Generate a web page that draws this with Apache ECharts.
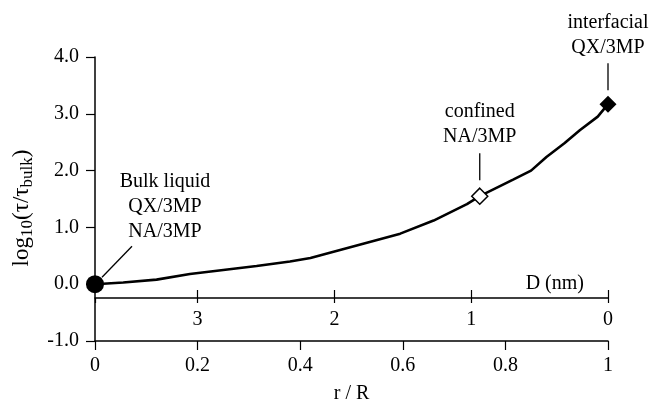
<!DOCTYPE html>
<html><head><meta charset="utf-8">
<script src="https://cdn.jsdelivr.net/npm/echarts@6/dist/echarts.min.js"></script>
<style>html,body{margin:0;padding:0;background:#fff}#c{width:652px;height:403px}</style>
</head><body><div id="c"></div>
<script>
// ---- data ----
const rValues = [0, 0.055, 0.12, 0.185, 0.25, 0.315, 0.38, 0.42, 0.465, 0.53, 0.595, 0.66, 0.725, 0.75, 0.815, 0.85, 0.88, 0.915, 0.945, 0.98, 1.0];
const logTau  = [0, 0.03, 0.08, 0.18, 0.25, 0.32, 0.40, 0.46, 0.57, 0.73, 0.89, 1.12, 1.41, 1.55, 1.84, 2.0, 2.24, 2.48, 2.71, 2.95, 3.17];
const xTicks = [0, 0.2, 0.4, 0.6, 0.8, 1];
const yTicks = [-1, 0, 1, 2, 3, 4];
const dTicks = [0, 1, 2, 3];
const dMax = 3.75;
const bulkPoint = [0, 0];
const confinedPoint = [0.75, 1.55];
const interfacialPoint = [1.0, 3.17];
const bulkLabel = ['Bulk liquid', 'QX/3MP', 'NA/3MP'];
const confinedLabel = ['confined', 'NA/3MP'];
const interfacialLabel = ['interfacial', 'QX/3MP'];
const xName = 'r / R';
const dName = 'D (nm)';

const FONT = '"Liberation Serif", "DejaVu Serif", serif';
const BLACK = '#000';
const txt = {color: BLACK, fontFamily: FONT, fontSize: 20};

const chart = echarts.init(document.getElementById('c'), null, {renderer: 'canvas'});

const dAxisBase = {
  type: 'value', min: 0, max: dMax, interval: 1, inverse: true,
  position: 'bottom', offset: -43, gridIndex: 0,
  splitLine: {show: false}
};

chart.setOption({
  animation: false,
  backgroundColor: '#fff',
  grid: {left: 95, right: 44, top: 57, bottom: 62, containLabel: false, outerBoundsMode: 'none'},
  xAxis: [
    {
      type: 'value', min: xTicks[0], max: xTicks[xTicks.length - 1], interval: 0.2,
      position: 'bottom',
      axisLine: {show: true, onZero: false, lineStyle: {color: BLACK, width: 1.5}},
      axisTick: {show: true, inside: false, length: 9, lineStyle: {color: BLACK, width: 1.2}},
      axisLabel: Object.assign({margin: 15, formatter: v => String(+v.toFixed(1))}, txt),
      splitLine: {show: false},
      name: xName, nameLocation: 'middle', nameGap: 43,
      nameTextStyle: txt
    },
    Object.assign({}, dAxisBase, {
      axisLine: {show: true, onZero: false, lineStyle: {color: BLACK, width: 1.5}},
      axisTick: {show: true, inside: true, length: 8, lineStyle: {color: BLACK, width: 1.2}},
      axisLabel: Object.assign({margin: 12, showMaxLabel: false,
        formatter: v => (dTicks.indexOf(Math.round(v * 100) / 100) >= 0 ? String(v) : '')}, txt)
    }),
    Object.assign({}, dAxisBase, {
      axisLine: {show: false, onZero: false},
      axisTick: {show: true, inside: false, length: 5, lineStyle: {color: BLACK, width: 1.2}},
      axisLabel: {show: false}
    })
  ],
  yAxis: {
    type: 'value', min: yTicks[0], max: yTicks[yTicks.length - 1], interval: 1,
    axisLine: {show: true, onZero: false, lineStyle: {color: BLACK, width: 1.5}},
    axisTick: {show: true, inside: false, length: 9, lineStyle: {color: BLACK, width: 1.2}},
    axisLabel: Object.assign({margin: 16, formatter: v => v.toFixed(1)}, txt),
    splitLine: {show: false},
    name: '{a|log}{s|10}{a|(τ/τ}{s|bulk}{a|)}',
    nameLocation: 'middle', nameGap: 58,
    nameTextStyle: {
      color: BLACK, fontFamily: FONT, fontSize: 23, padding: [0, 18, 0, 0],
      rich: {
        a: {color: BLACK, fontFamily: FONT, fontSize: 23, lineHeight: 28},
        s: {color: BLACK, fontFamily: FONT, fontSize: 17, lineHeight: 14, verticalAlign: 'bottom'}
      }
    }
  },
  series: [
    {
      type: 'line', xAxisIndex: 0, yAxisIndex: 0,
      data: rValues.map((r, i) => [r, logTau[i]]),
      showSymbol: false, symbol: 'none', smooth: false,
      lineStyle: {color: BLACK, width: 2.6}, z: 2
    },
    {
      type: 'scatter', xAxisIndex: 0, yAxisIndex: 0, data: [bulkPoint],
      symbol: 'circle', symbolSize: 18, itemStyle: {color: BLACK, opacity: 1}, z: 5
    },
    {
      type: 'scatter', xAxisIndex: 0, yAxisIndex: 0, data: [confinedPoint],
      symbol: 'diamond', symbolSize: 16,
      itemStyle: {color: '#fff', borderColor: BLACK, borderWidth: 1.5, opacity: 1}, z: 5
    },
    {
      type: 'scatter', xAxisIndex: 0, yAxisIndex: 0, data: [interfacialPoint],
      symbol: 'diamond', symbolSize: 17, itemStyle: {color: BLACK, opacity: 1}, z: 5
    }
  ]
});

// ---- annotations anchored to data points ----
function px(p) { return chart.convertToPixel({xAxisIndex: 0, yAxisIndex: 0}, p); }
const b = px(bulkPoint), c = px(confinedPoint), f = px(interfacialPoint);
const dAxisY = chart.convertToPixel({yAxisIndex: 0}, yTicks[0]) - 43;
const dEndX = chart.convertToPixel({xAxisIndex: 1}, 0);
const lineStyle = {stroke: BLACK, lineWidth: 1.3};
const textStyle = (s) => ({text: s.join('\n'), fill: BLACK, fontFamily: FONT, fontSize: 20,
  lineHeight: 25, align: 'center', verticalAlign: 'middle'});

chart.setOption({
  graphic: [
    {type: 'line', shape: {x1: b[0] + 7, y1: b[1] - 7, x2: b[0] + 37, y2: b[1] - 38}, style: lineStyle},
    {type: 'text', x: b[0] + 70, y: b[1] - 77, style: textStyle(bulkLabel)},
    {type: 'line', shape: {x1: c[0], y1: c[1] - 16, x2: c[0], y2: c[1] - 43}, style: lineStyle},
    {type: 'text', x: c[0], y: c[1] - 72, style: textStyle(confinedLabel)},
    {type: 'line', shape: {x1: f[0], y1: f[1] - 14, x2: f[0], y2: f[1] - 41}, style: lineStyle},
    {type: 'text', x: f[0], y: f[1] - 69, style: textStyle(interfacialLabel)},
    {type: 'text', x: dEndX - 24, y: dAxisY - 14,
     style: {text: dName, fill: BLACK, fontFamily: FONT, fontSize: 20, align: 'right', verticalAlign: 'middle'}}
  ]
});
</script>
</body></html>
